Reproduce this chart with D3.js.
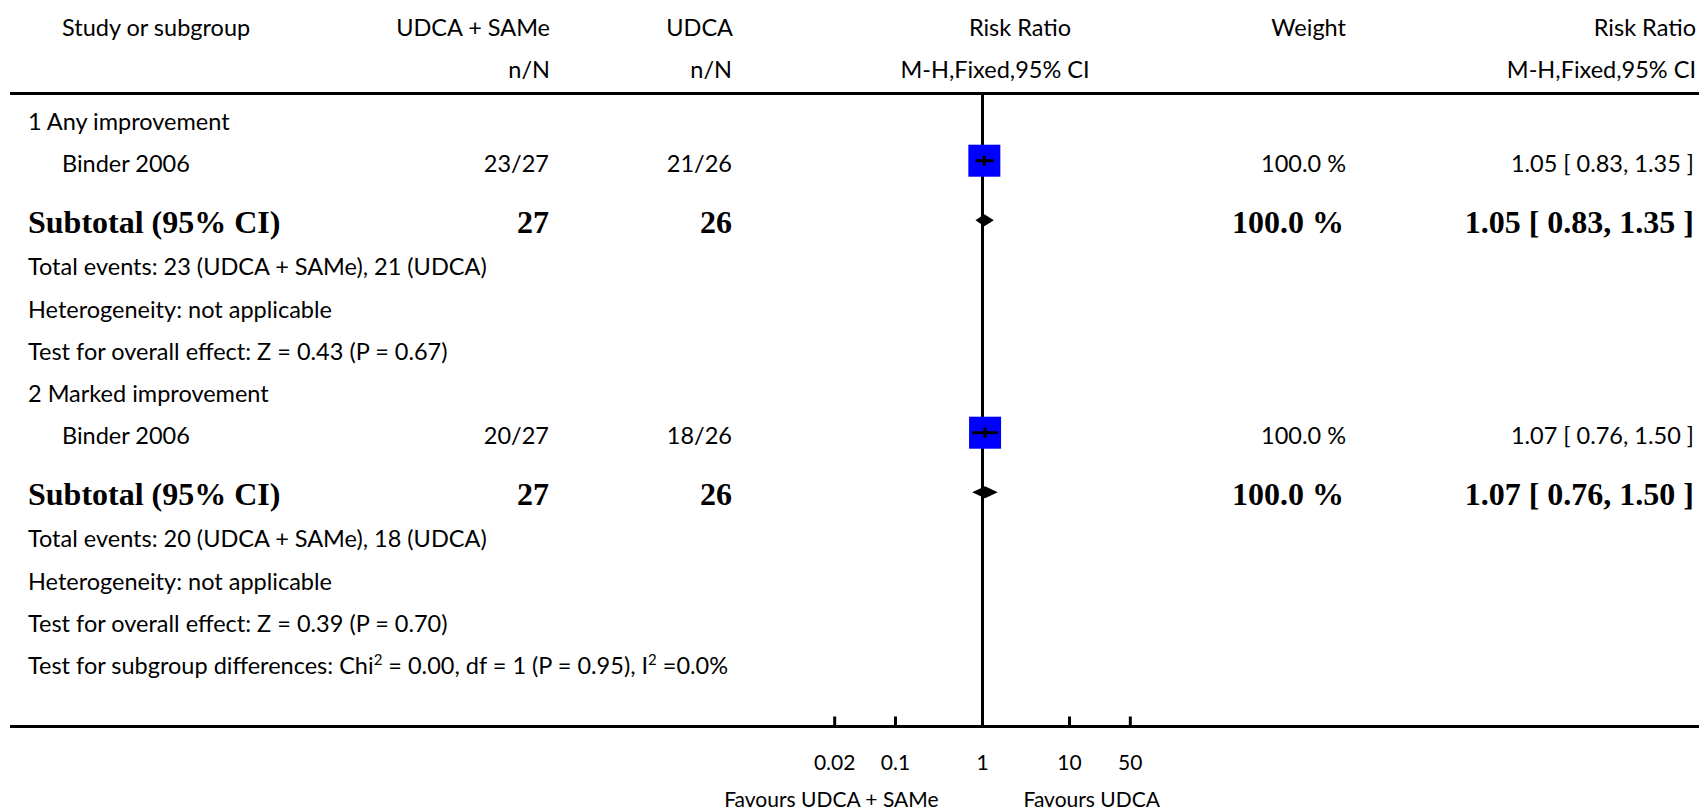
<!DOCTYPE html>
<html>
<head>
<meta charset="utf-8">
<script src="https://cdn.jsdelivr.net/npm/d3@7/dist/d3.min.js"></script>
<style>
  html, body { margin: 0; padding: 0; background: #fff; }
  svg { display: block; }
  .reg { font-family: "Lato", "Open Sans", sans-serif; font-size: 23.5px; fill: #000; }
  .bold { font-family: "Liberation Serif", "DejaVu Serif", serif; font-weight: bold; font-size: 32px; fill: #000; }
  .tick { font-family: "Lato", "Open Sans", sans-serif; font-size: 21px; fill: #000; }
</style>
</head>
<body>
<svg id="chart" width="1699" height="811"></svg>
<script>
// Forest plot: UDCA + SAMe versus UDCA, risk ratio (M-H, fixed, 95% CI)

const subgroupNames = ["1 Any improvement", "2 Marked improvement"];
const studyNames = ["Binder 2006", "Binder 2006"];
const treatEvents = [23, 20];
const treatTotal = [27, 27];
const ctrlEvents = [21, 18];
const ctrlTotal = [26, 26];
const riskRatio = [1.05, 1.07];
const ciLow = [0.83, 0.76];
const ciHigh = [1.35, 1.50];
const weightPct = [100.0, 100.0];
const zStat = [0.43, 0.39];
const pValue = [0.67, 0.70];
const axisTicks = [0.02, 0.1, 1, 10, 50];
const axisTickLabels = ["0.02", "0.1", "1", "10", "50"];
const treatLabel = "UDCA + SAMe";
const ctrlLabel = "UDCA";

const svg = d3.select("#chart");
const W = 1699;

// column anchors
const col = {
  level0: 28, level1: 62,
  treat: 549, ctrl: 732,
  weight: 1346, ci: 1694
};

const x = d3.scaleLog().domain([0.01, 100]).range([808.5, 1156.5]);
const x0 = x(1);

// headers
const hdr = svg.append("g");
hdr.append("text").attr("class", "reg").attr("x", 62).attr("y", 36).text("Study or subgroup");
hdr.append("text").attr("class", "reg").attr("x", col.treat + 1).attr("y", 36).attr("text-anchor", "end").text(treatLabel);
hdr.append("text").attr("class", "reg").attr("x", col.ctrl + 1).attr("y", 36).attr("text-anchor", "end").text(ctrlLabel);
hdr.append("text").attr("class", "reg").attr("x", col.treat + 1).attr("y", 78).attr("text-anchor", "end").text("n/N");
hdr.append("text").attr("class", "reg").attr("x", col.ctrl).attr("y", 78).attr("text-anchor", "end").text("n/N");
hdr.append("text").attr("class", "reg").attr("x", 1020).attr("y", 36).attr("text-anchor", "middle").text("Risk Ratio");
hdr.append("text").attr("class", "reg").attr("x", 995).attr("y", 78).attr("text-anchor", "middle").text("M-H,Fixed,95% CI");
hdr.append("text").attr("class", "reg").attr("x", col.weight).attr("y", 36).attr("text-anchor", "end").text("Weight");
hdr.append("text").attr("class", "reg").attr("x", 1696).attr("y", 36).attr("text-anchor", "end").text("Risk Ratio");
hdr.append("text").attr("class", "reg").attr("x", 1696).attr("y", 78).attr("text-anchor", "end").text("M-H,Fixed,95% CI");

// rule lines
svg.append("line").attr("x1", 10).attr("x2", W).attr("y1", 93.5).attr("y2", 93.5)
  .attr("stroke", "#000").attr("stroke-width", 3);
const axisY = 726.5;

// build the row list
const rows = [];
subgroupNames.forEach((name, i) => {
  rows.push({ type: "heading", i });
  rows.push({ type: "study", i });
  rows.push({ type: "subtotal", i });
  rows.push({ type: "events", i });
  rows.push({ type: "het", i });
  rows.push({ type: "effect", i });
});
rows.push({ type: "diff" });

let yPos = 130;
rows.forEach((r, k) => {
  if (k > 0) yPos += (r.type === "subtotal") ? 61 : 42.2;
  r.y = yPos;
});

const fmt2 = d3.format(".2f");
const ciText = i => `${fmt2(riskRatio[i])} [ ${fmt2(ciLow[i])}, ${fmt2(ciHigh[i])} ]`;
const wText = i => `${d3.format(".1f")(weightPct[i])} %`;

// reference line at RR = 1
svg.append("line").attr("x1", x0).attr("x2", x0).attr("y1", 95).attr("y2", axisY - 1.5)
  .attr("stroke", "#000").attr("stroke-width", 3);

const g = svg.append("g");
rows.forEach(r => {
  const i = r.i;
  if (r.type === "heading") {
    g.append("text").attr("class", "reg").attr("x", col.level0).attr("y", r.y).text(subgroupNames[i]);
  } else if (r.type === "study") {
    g.append("text").attr("class", "reg").attr("x", col.level1).attr("y", r.y).text(studyNames[i]);
    g.append("text").attr("class", "reg").attr("x", col.treat).attr("y", r.y).attr("text-anchor", "end")
      .text(`${treatEvents[i]}/${treatTotal[i]}`);
    g.append("text").attr("class", "reg").attr("x", col.ctrl).attr("y", r.y).attr("text-anchor", "end")
      .text(`${ctrlEvents[i]}/${ctrlTotal[i]}`);
    g.append("text").attr("class", "reg").attr("x", col.weight).attr("y", r.y).attr("text-anchor", "end").text(wText(i));
    g.append("text").attr("class", "reg").attr("x", col.ci).attr("y", r.y).attr("text-anchor", "end").text(ciText(i));
    const cy = r.y - 11.5;
    const size = 32 * Math.sqrt(weightPct[i] / 100);
    g.append("rect").attr("x", x(riskRatio[i]) - size / 2).attr("y", cy - size / 2)
      .attr("width", size).attr("height", size).attr("fill", "#0000ff");
    g.append("line").attr("x1", x(ciLow[i])).attr("x2", x(ciHigh[i])).attr("y1", cy).attr("y2", cy)
      .attr("stroke", "#000").attr("stroke-width", 3);
    g.append("line").attr("x1", x(riskRatio[i])).attr("x2", x(riskRatio[i])).attr("y1", cy - 5).attr("y2", cy + 5)
      .attr("stroke", "#000").attr("stroke-width", 3);
  } else if (r.type === "subtotal") {
    g.append("text").attr("class", "bold").attr("x", col.level0).attr("y", r.y).text("Subtotal (95% CI)");
    g.append("text").attr("class", "bold").attr("x", col.treat).attr("y", r.y).attr("text-anchor", "end").text(treatTotal[i]);
    g.append("text").attr("class", "bold").attr("x", col.ctrl).attr("y", r.y).attr("text-anchor", "end").text(ctrlTotal[i]);
    g.append("text").attr("class", "bold").attr("x", col.weight - 2).attr("y", r.y).attr("text-anchor", "end").text(wText(i));
    g.append("text").attr("class", "bold").attr("x", col.ci).attr("y", r.y).attr("text-anchor", "end").text(ciText(i));
    const cy = r.y - 13;
    const h = 6;
    const pts = [[x(ciLow[i]), cy], [x(riskRatio[i]), cy - h], [x(ciHigh[i]), cy], [x(riskRatio[i]), cy + h]];
    g.append("path").attr("d", d3.line()(pts) + "Z").attr("fill", "#000");
  } else if (r.type === "events") {
    g.append("text").attr("class", "reg").attr("x", col.level0).attr("y", r.y)
      .text(`Total events: ${treatEvents[i]} (${treatLabel}), ${ctrlEvents[i]} (${ctrlLabel})`);
  } else if (r.type === "het") {
    g.append("text").attr("class", "reg").attr("x", col.level0).attr("y", r.y).text("Heterogeneity: not applicable");
  } else if (r.type === "effect") {
    g.append("text").attr("class", "reg").attr("x", col.level0).attr("y", r.y)
      .text(`Test for overall effect: Z = ${fmt2(zStat[i])} (P = ${fmt2(pValue[i])})`);
  } else if (r.type === "diff") {
    const t = g.append("text").attr("class", "reg").attr("x", col.level0).attr("y", r.y);
    t.append("tspan").text("Test for subgroup differences: Chi");
    t.append("tspan").attr("dy", -9).attr("font-size", 15).text("2");
    t.append("tspan").attr("dy", 9).text(" = 0.00, df = 1 (P = 0.95), I");
    t.append("tspan").attr("dy", -9).attr("font-size", 15).text("2");
    t.append("tspan").attr("dy", 9).text(" =0.0%");
  }
});

// bottom axis
svg.append("line").attr("x1", 10).attr("x2", W).attr("y1", axisY).attr("y2", axisY)
  .attr("stroke", "#000").attr("stroke-width", 3);
const ax = svg.append("g");
ax.selectAll("line.tk").data(axisTicks).join("line").attr("class", "tk")
  .attr("x1", d => x(d)).attr("x2", d => x(d)).attr("y1", axisY).attr("y2", axisY - 10)
  .attr("stroke", "#000").attr("stroke-width", 3);
ax.selectAll("text.tl").data(axisTicks).join("text").attr("class", "tick")
  .attr("x", d => x(d)).attr("y", 770).attr("text-anchor", "middle")
  .text((d, k) => axisTickLabels[k]);
ax.append("text").attr("class", "tick").attr("x", x0 - 44).attr("y", 807).attr("text-anchor", "end")
  .text(`Favours ${treatLabel}`);
ax.append("text").attr("class", "tick").attr("x", x0 + 41).attr("y", 807).attr("text-anchor", "start")
  .text(`Favours ${ctrlLabel}`);
</script>
</body>
</html>
